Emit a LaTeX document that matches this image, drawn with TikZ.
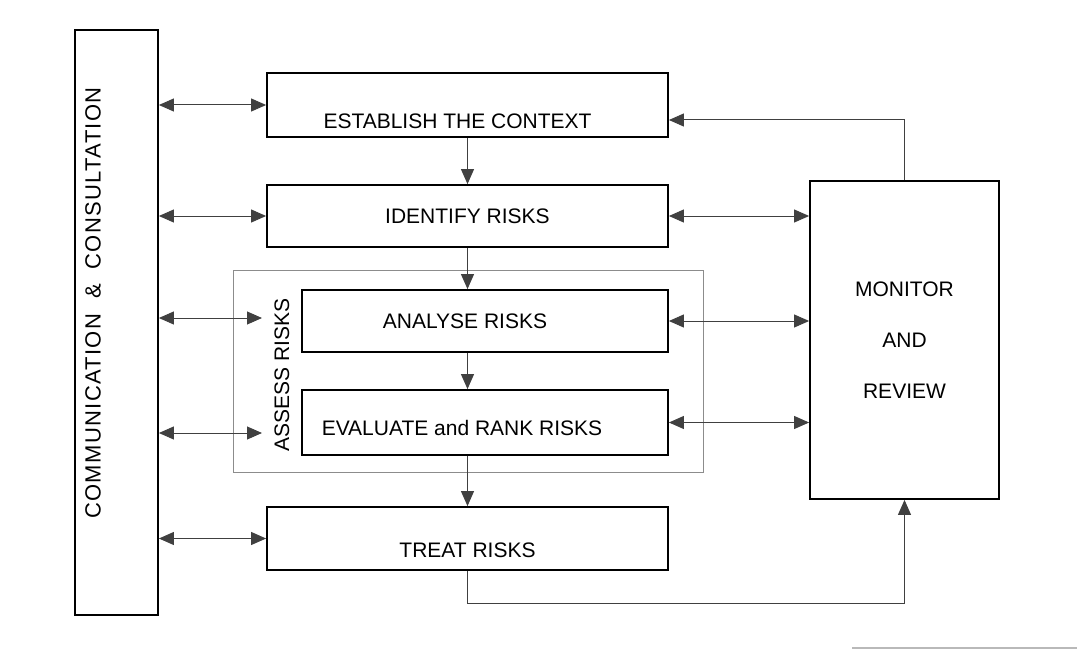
\documentclass[tikz,border=0pt]{standalone}
\usepackage{fontspec}
\setmainfont{Liberation Sans}
\newfontfamily\commfont[LetterSpace=6]{Liberation Sans}
\usepackage{tikz}
\usetikzlibrary{arrows.meta}

\tikzset{
  box/.style={rectangle, draw, line width=1.8pt, inner sep=0pt},
  txt/.style={font=\fontsize{21}{25}\selectfont},
  link/.style={line width=1pt, draw=black!75},
  tri/.tip={Triangle[length=15pt,width=13pt]}
}

\begin{document}
\begin{tikzpicture}[x=1pt,y=-1pt]
\useasboundingbox (0,0) rectangle (1077,650);

\node (comm) at (116.5,322.5) [box, minimum width=83, minimum height=585,
	label={[font=\commfont\fontsize{22}{26}\selectfont, xshift=-23.5pt, yshift=19.5pt, rotate=90]center:COMMUNICATION \ \& \ CONSULTATION}] {};

\node (ass) at (468,371) [rectangle, draw=black!45, line width=1pt, minimum width=470, minimum height=202,
	label={[txt, xshift=-186pt, yshift=-4pt, rotate=90]center:ASSESS RISKS}] {};

\node (est) at (467.5,105) [box, minimum width=401, minimum height=64, label={[txt, xshift=-10pt, yshift=-16pt]center:ESTABLISH THE CONTEXT}] {};
\node (idf) at (467.5,216) [box, minimum width=401, minimum height=62, label={[txt]center:IDENTIFY RISKS}] {} edge[link, tri-] (est);
	\node (ana) at (485,321) [box, minimum width=366, minimum height=62, label={[txt, xshift=-20pt]center:ANALYSE RISKS}] {};
	\node (eva) at (485,422.5) [box, minimum width=366, minimum height=65, label={[txt, xshift=-23pt, yshift=-5pt]center:EVALUATE and RANK RISKS}] {};
\node (trt) at (467.5,538.5) [box, minimum width=401, minimum height=63, label={[txt, yshift=-11.5pt]center:TREAT RISKS}] {};

\node (mon) at (904.5,340) [box, minimum width=189, minimum height=318, txt, align=center] {MONITOR\\[26pt]AND\\[26pt]REVIEW};

\coordinate (ca) at (262,318);
\coordinate (ce) at (262,433);

\draw[link, tri-tri] (comm.east |- est) -- (est.west);
\draw[link, tri-tri] (comm.east |- idf) -- (idf.west);
\draw[link, tri-tri] (comm.east |- ca) -- (ca);
\draw[link, tri-tri] (comm.east |- ce) -- (ce);
\draw[link, tri-tri] (comm.east |- trt) -- (trt.west);

\draw[link, tri-tri] (idf.east) -- (mon.west |- idf.east);
\draw[link, tri-tri] (ana.east) -- (mon.west |- ana.east);
\draw[link, tri-tri] (eva.east) -- (mon.west |- eva.east);

\draw[link, -tri] (idf.south) -- (idf.south |- ana.north);
\draw[link, -tri] (ana.south -| idf.south) -- (idf.south |- eva.north);
\draw[link, -tri] (eva.south -| idf.south) -- (trt.north);

\draw[link, -tri] (mon.north) |- ([yshift=-15pt]est.east);
\draw[link, -tri] (trt.south) -- ++(0,33) -| (mon.south);

\draw[gray!55, line width=1.5pt] (852,648) -- (1077,648);
\end{tikzpicture}
\end{document}
